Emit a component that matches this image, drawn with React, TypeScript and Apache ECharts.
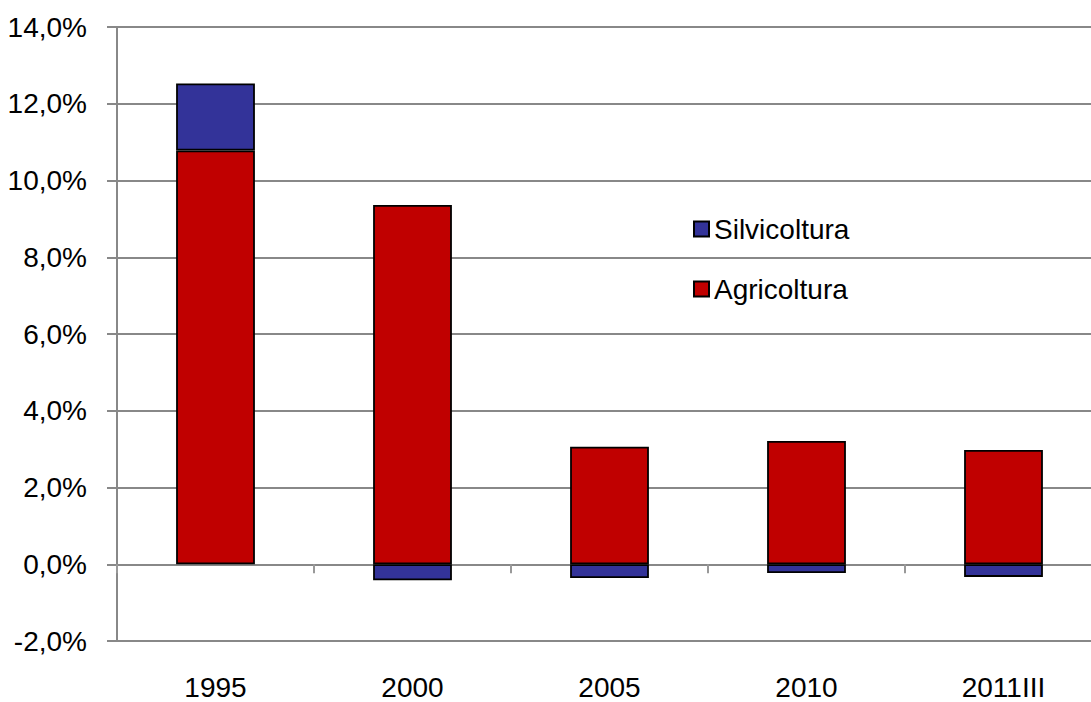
import React, { useEffect, useRef } from "react";
import * as echarts from "echarts";

const categories = ["1995", "2000", "2005", "2010", "2011III"];
const agricoltura = [10.78, 9.36, 3.06, 3.21, 2.98];
const silvicoltura = [1.75, -0.42, -0.36, -0.23, -0.33];
const yTicks = { min: -2, max: 14, interval: 2 };

const FONT = "'Liberation Sans Narrow', 'Arial Narrow', 'Liberation Sans', Arial, sans-serif";
const FS = 28;

export default function App() {
  const ref = useRef<HTMLDivElement>(null);
  useEffect(() => {
    document.body.style.margin = "0";
    document.body.style.overflow = "hidden";
    const chart = echarts.init(ref.current!, undefined, { renderer: "svg" });
    const barStyle = (color: string) => ({ color, borderColor: "#000", borderWidth: 1.8 });
    chart.setOption({
      animation: false,
      textStyle: { fontFamily: FONT },
      grid: { left: 117, top: 27, bottom: 61, right: 0, containLabel: false },
      legend: {
        data: ["Silvicoltura", "Agricoltura"],
        orient: "vertical",
        left: 688,
        top: 210,
        icon: "rect",
        itemWidth: 15,
        itemHeight: 15,
        itemGap: 32,
        selectedMode: false,
        textStyle: { fontFamily: FONT, fontSize: FS, color: "#000" },
      },
      xAxis: [
        {
          type: "category",
          data: categories,
          position: "bottom",
          axisLine: { show: false, onZero: false },
          axisTick: { show: false },
          axisLabel: { fontFamily: FONT, fontSize: FS, color: "#000", margin: 32 },
        },
        {
          type: "category",
          data: categories,
          position: "top",
          axisLine: { show: true, onZero: true, lineStyle: { color: "#888", width: 2 } },
          axisTick: { show: true, inside: true, length: 9, lineStyle: { color: "#999", width: 2 } },
          axisLabel: { show: false },
        },
      ],
      yAxis: {
        type: "value",
        min: yTicks.min,
        max: yTicks.max,
        interval: yTicks.interval,
        axisLine: { show: true, lineStyle: { color: "#888", width: 2 } },
        axisTick: { show: true, length: 10, lineStyle: { color: "#888", width: 2 } },
        splitLine: { show: true, lineStyle: { color: "#888", width: 2 } },
        axisLabel: {
          fontFamily: FONT,
          fontSize: FS,
          color: "#000",
          margin: 30,
          formatter: (v: number) => v.toFixed(1).replace(".", ",") + "%",
        },
      },
      series: [
        {
          name: "Agricoltura",
          type: "bar",
          stack: "tot",
          barWidth: "40%",
          data: agricoltura,
          itemStyle: barStyle("#C00000"),
        },
        {
          name: "Silvicoltura",
          type: "bar",
          stack: "tot",
          barWidth: "40%",
          data: silvicoltura,
          itemStyle: barStyle("#333399"),
        },
      ],
    });
    return () => chart.dispose();
  }, []);
  return (
    <div style={{ width: 1091, height: 702, overflow: "hidden" }}>
      <div ref={ref} style={{ width: 1102, height: 702 }} />
    </div>
  );
}
